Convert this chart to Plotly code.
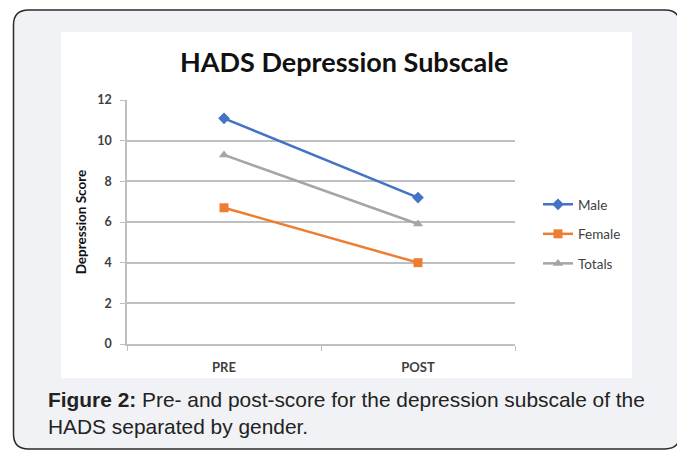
import plotly.graph_objects as go

# ---- data ----
categories = ["PRE", "POST"]
male = [11.1, 7.2]
female = [6.7, 4.0]
totals = [9.3, 5.9]
series_names = ["Male", "Female", "Totals"]
y_ticks = [0, 2, 4, 6, 8, 10, 12]

# page body has an 8px margin, so the figure is offset by 8px
OFF = 8
W, H = 685 - OFF, 450 - OFF
PLOT_X0, PLOT_X1, PLOT_Y0, PLOT_Y1 = 127, 515, 100, 344  # window pixels
L, R, T, B = PLOT_X0 - OFF, 685 - PLOT_X1, PLOT_Y0 - OFF, 450 - PLOT_Y1
PW = PLOT_X1 - PLOT_X0
PH = PLOT_Y1 - PLOT_Y0


def px(x):
    return (x - PLOT_X0) / PW


def py(y):
    return (PLOT_Y1 - y) / PH


fig = go.Figure()
colors = ["#4472C4", "#ED7D31", "#A5A5A5"]
symbols = ["diamond", "square", "triangle-up"]
sizes = [9, 9, 9]
for name, vals, c, s, sz in zip(series_names, [male, female, totals], colors, symbols, sizes):
    fig.add_trace(go.Scatter(
        x=categories, y=vals, name=name, mode="lines+markers",
        line=dict(color=c, width=2.5),
        marker=dict(symbol=s, size=sz, color=c),
        legendgroup=name,
    ))


def rounded(x0, y0, x1, y1, r):
    pts = []
    pts.append(f"M {px(x0 + r)} {py(y0)}")
    pts.append(f"L {px(x1 - r)} {py(y0)}")
    pts.append(f"Q {px(x1)} {py(y0)} {px(x1)} {py(y0 + r)}")
    pts.append(f"L {px(x1)} {py(y1 - r)}")
    pts.append(f"Q {px(x1)} {py(y1)} {px(x1 - r)} {py(y1)}")
    pts.append(f"L {px(x0 + r)} {py(y1)}")
    pts.append(f"Q {px(x0)} {py(y1)} {px(x0)} {py(y1 - r)}")
    pts.append(f"L {px(x0)} {py(y0 + r)}")
    pts.append(f"Q {px(x0)} {py(y0)} {px(x0 + r)} {py(y0)}")
    pts.append("Z")
    return " ".join(pts)


shapes = [
    dict(type="path", xref="paper", yref="paper", layer="below",
         path=rounded(13.5, 10, 680, 449, 15),
         fillcolor="#F1F2F5", line=dict(color="#2b2b2b", width=1.5)),
    dict(type="rect", xref="paper", yref="paper", layer="below",
         x0=px(61), x1=px(632), y0=py(32), y1=py(378),
         fillcolor="white", line=dict(width=0)),
]

chart_font = "Lato"
annotations = [
    dict(xref="paper", yref="paper", x=px(344), y=py(62), xanchor="center", yanchor="middle",
         text="<b>HADS Depression Subscale</b>", showarrow=False,
         font=dict(family=chart_font, size=27, color="#111111")),
    dict(xref="paper", yref="paper", x=px(46), y=py(413), xanchor="left", yanchor="middle",
         text="<b>Figure 2:</b> Pre- and post-score for the depression subscale of the<br>HADS separated by gender.",
         showarrow=False, align="left",
         font=dict(family="Liberation Sans", size=20.9, color="#222222")),
]

fig.update_layout(
    width=W, height=H,
    margin=dict(l=L, r=R, t=T, b=B),
    paper_bgcolor="white", plot_bgcolor="rgba(0,0,0,0)",
    shapes=shapes, annotations=annotations,
    showlegend=True,
    legend=dict(x=px(538), y=py(189), xanchor="left", yanchor="top",
                font=dict(family=chart_font, size=13.5, color="#404040"),
                tracegroupgap=9, bgcolor="rgba(0,0,0,0)"),
    xaxis=dict(type="category", range=[-0.5, 1.5], showgrid=False,
               showline=True, linecolor="#BFBFBF", linewidth=1.5,
               ticks="outside", tickson="boundaries", ticklen=5, tickcolor="#BFBFBF",
               tickfont=dict(family=chart_font, size=13, color="#404040", weight="bold"),
               ticklabelstandoff=11),
    yaxis=dict(range=[0, 12], tickvals=y_ticks, showgrid=True, gridcolor="#BFBFBF", gridwidth=1.5,
               showline=True, linecolor="#BFBFBF", linewidth=1.5, zeroline=False,
               ticks="outside", ticklen=5, tickcolor="#BFBFBF",
               tickfont=dict(family=chart_font, size=12.5, color="#404040", weight="bold"),
               ticklabelstandoff=6,
               title=dict(text="Depression Score", standoff=8,
                          font=dict(family=chart_font, size=13.5, color="#111111", weight="bold"))),
)

fig.write_html("out.html")
